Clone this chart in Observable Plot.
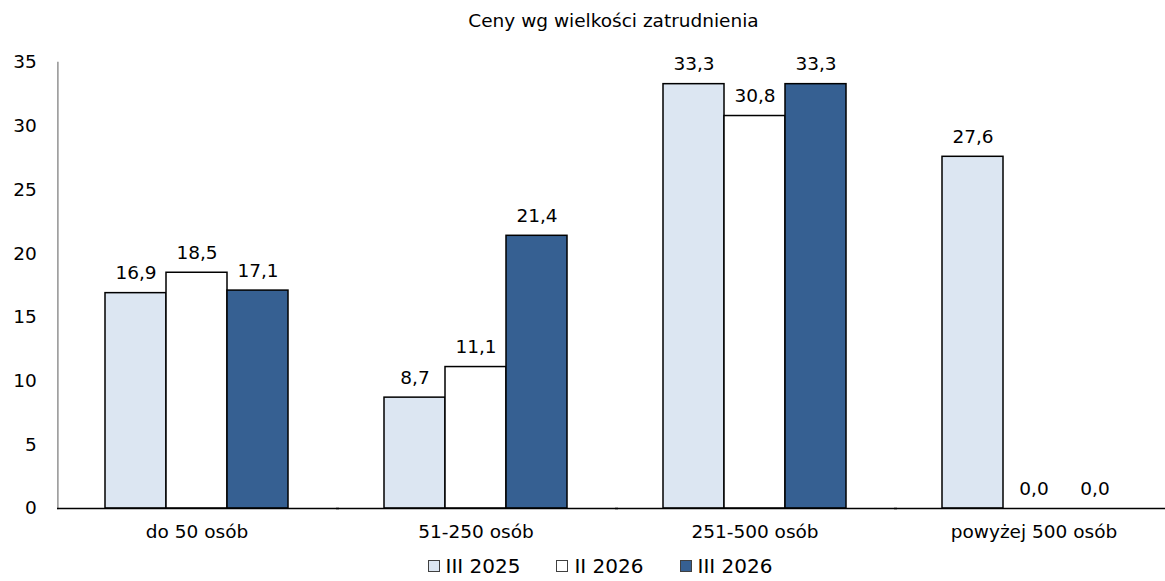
<!DOCTYPE html>
<html>
<head>
<meta charset="utf-8">
<script src="https://cdn.jsdelivr.net/npm/d3@7"></script>
<script src="https://cdn.jsdelivr.net/npm/@observablehq/plot@0.6"></script>
<style>
  body { margin: 0; background: #fff; overflow: hidden; font-family: "DejaVu Sans", sans-serif; }
  #title { height: 40px; line-height: 42px; padding-left: 62px; text-align: center; font-size: 18.5px; color: #000; }
  #legend { height: 36px; display: flex; justify-content: center; align-items: center; padding-left: 35px; font-size: 20px; color: #000; }
  .item { display: flex; align-items: center; margin: 0 18px; }
  .sw { width: 12px; height: 12px; border: 1px solid #404040; margin-right: 6px; box-sizing: border-box; }
</style>
</head>
<body>
<div id="title">Ceny wg wielkości zatrudnienia</div>
<div id="chart"></div>
<div id="legend"></div>
<script>
const categories = ["do 50 osób", "51-250 osób", "251-500 osób", "powyżej 500 osób"];
const seriesNames = ["III 2025", "II 2026", "III 2026"];
const valuesIII2025 = [16.9, 8.7, 33.3, 27.6];
const valuesII2026 = [18.5, 11.1, 30.8, 0.0];
const valuesIII2026 = [17.1, 21.4, 33.3, 0.0];
const yTicks = [0, 5, 10, 15, 20, 25, 30, 35];
const seriesColors = ["#dce6f2", "#ffffff", "#366092"];

const seriesValues = [valuesIII2025, valuesII2026, valuesIII2026];
const rows = categories.flatMap((c, i) => seriesNames.map((s, j) => ({category: c, series: s, value: seriesValues[j][i]})));
const fmt = v => v.toFixed(1).replace(".", ",");

const shift = -46.6;
const chart = Plot.plot({
  width: 1165,
  height: 508,
  marginLeft: 57,
  marginRight: -8,
  marginTop: 22,
  marginBottom: 40,
  style: {fontFamily: "DejaVu Sans", fontSize: "18.5px", color: "#000", background: "#fff"},
  fx: {domain: categories, paddingInner: 0.337, paddingOuter: 0.168, label: null},
  x: {domain: seriesNames, padding: 0, axis: null},
  y: {domain: [0, 35], label: null, axis: null},
  color: {domain: seriesNames, range: seriesColors},
  marks: [
    Plot.axisFx({anchor: "bottom", tickSize: 0, tickPadding: 16, label: null, fontSize: 18.5}),
    Plot.axisY({ticks: yTicks, tickSize: 0, tickPadding: 21, tickFormat: d => String(d), label: null, dx: shift, fontSize: 18.5}),
    Plot.frame({anchor: "left", facetAnchor: "left", dx: shift, stroke: "#808080", strokeWidth: 1.3}),
    Plot.barY(rows, {fx: "category", x: "series", y: "value", fill: "series", stroke: "#000", strokeWidth: 1.5}),
    Plot.ruleY([0], {insetLeft: -47, insetRight: -50, stroke: "#000", strokeWidth: 1.3}),
    Plot.text(rows, {fx: "category", x: "series", y: "value", text: d => fmt(d.value), dy: -14, lineAnchor: "bottom", fill: "#000", fontSize: 18.5})
  ]
});
document.getElementById("chart").append(chart);

const legend = document.getElementById("legend");
seriesNames.forEach((s, i) => {
  const it = document.createElement("div");
  it.className = "item";
  const sw = document.createElement("div");
  sw.className = "sw";
  sw.style.background = seriesColors[i];
  const t = document.createElement("span");
  t.textContent = s;
  it.append(sw, t);
  legend.append(it);
});
</script>
</body>
</html>
